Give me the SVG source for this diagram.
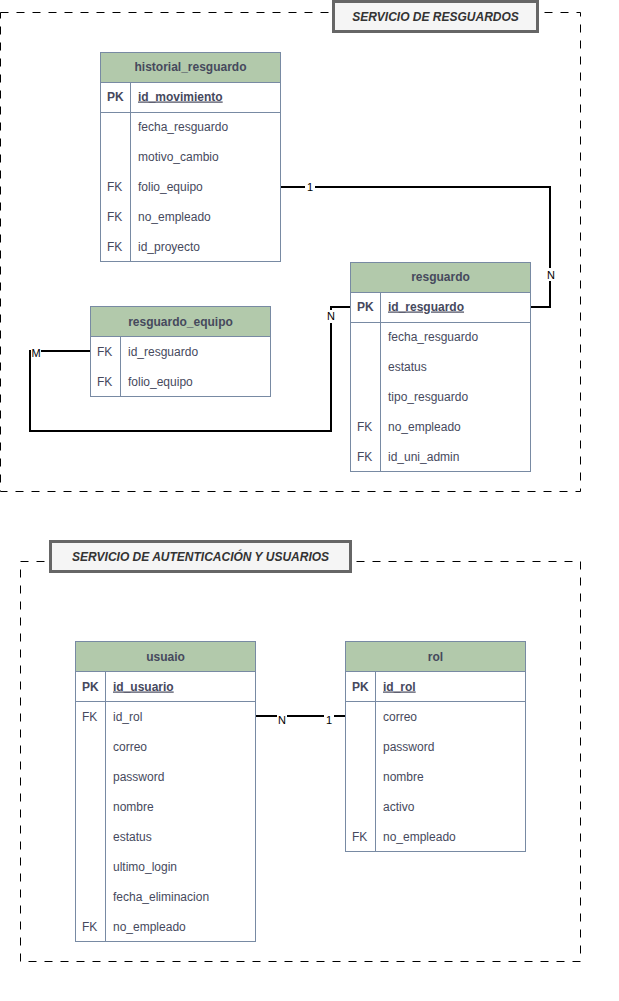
<svg xmlns="http://www.w3.org/2000/svg" width="619" height="1001" viewBox="0 0 619 1001">
<style>
.frame{fill:none;stroke:#000;stroke-width:1;stroke-dasharray:8 8}
.title{fill:#f5f5f5;stroke:#666;stroke-width:3}
.ttext{font-family:"Liberation Sans",Arial,sans-serif;font-size:12px;font-style:italic;font-weight:bold;fill:#333;text-anchor:middle}
.box{fill:#fff;stroke:#788aa3;stroke-width:1}
.hdr{fill:#b2c9ab;stroke:#788aa3;stroke-width:1}
.ln{stroke:#788aa3;stroke-width:1;fill:none}
.h{font-family:"Liberation Sans",Arial,sans-serif;font-size:12px;font-weight:bold;fill:#46495d;text-anchor:middle}
.k{font-family:"Liberation Sans",Arial,sans-serif;font-size:12px;fill:#46495d}
.kb{font-family:"Liberation Sans",Arial,sans-serif;font-size:12px;font-weight:bold;fill:#46495d}
.pk{font-family:"Liberation Sans",Arial,sans-serif;font-size:12px;font-weight:bold;fill:#46495d;text-decoration:underline}
.conn{fill:none;stroke:#000;stroke-width:2}
.lbl{font-family:"Liberation Sans",Arial,sans-serif;font-size:11px;fill:#000;text-anchor:middle}
</style>
<g id="frame-resguardos">
<rect class="frame" x="0.5" y="12.5" width="580" height="479"/>
<rect class="title" x="333.5" y="1.5" width="204" height="30"/>
<text class="ttext" x="435.5" y="20.5">SERVICIO DE RESGUARDOS</text>
</g>
<g id="frame-auth">
<rect class="frame" x="20.5" y="561.5" width="560" height="400"/>
<rect class="title" x="50.5" y="541.5" width="300" height="30"/>
<text class="ttext" x="200.5" y="560.5">SERVICIO DE AUTENTICACIÓN Y USUARIOS</text>
</g>
<g id="connectors">
<polyline class="conn" points="280,187 550,187 550,307 530,307"/>
<polyline class="conn" points="90,351 30,351 30,431 331,431 331,307 350,307"/>
<line class="conn" x1="255" y1="716" x2="345" y2="716"/>
<rect x="305" y="180" width="10" height="13" fill="#fff"/>
<text class="lbl" x="310" y="191">1</text>
<rect x="546" y="268" width="10" height="13" fill="#fff"/>
<text class="lbl" x="551" y="279">N</text>
<rect x="31" y="346" width="10" height="13" fill="#fff"/>
<text class="lbl" x="36" y="357">M</text>
<rect x="326" y="310" width="10" height="13" fill="#fff"/>
<text class="lbl" x="331" y="320">N</text>
<rect x="277" y="714" width="10" height="12" fill="#fff"/>
<text class="lbl" x="282" y="724">N</text>
<rect x="324" y="714" width="10" height="12" fill="#fff"/>
<text class="lbl" x="329" y="724">1</text>
</g>
<g id="historial_resguardo">
<rect class="box" x="100.5" y="52.5" width="180" height="209"/>
<rect class="hdr" x="100.5" y="52.5" width="180" height="30"/>
<text class="h" x="190.5" y="70.5">historial_resguardo</text>
<line class="ln" x1="100.5" y1="112.5" x2="280.5" y2="112.5"/>
<line class="ln" x1="130.5" y1="82.5" x2="130.5" y2="261.5"/>
<text class="kb" x="107" y="100.5">PK</text>
<text class="pk" x="138" y="100.5">id_movimiento</text>
<text class="k" x="138" y="130.5">fecha_resguardo</text>
<text class="k" x="138" y="160.5">motivo_cambio</text>
<text class="k" x="107" y="190.5">FK</text>
<text class="k" x="138" y="190.5">folio_equipo</text>
<text class="k" x="107" y="220.5">FK</text>
<text class="k" x="138" y="220.5">no_empleado</text>
<text class="k" x="107" y="250.5">FK</text>
<text class="k" x="138" y="250.5">id_proyecto</text>
</g>
<g id="resguardo_equipo">
<rect class="box" x="90.5" y="306.5" width="180" height="90"/>
<rect class="hdr" x="90.5" y="306.5" width="180" height="30"/>
<text class="h" x="180.5" y="325.5">resguardo_equipo</text>
<line class="ln" x1="120.5" y1="336.5" x2="120.5" y2="396.5"/>
<text class="k" x="97" y="355.5">FK</text>
<text class="k" x="128" y="355.5">id_resguardo</text>
<text class="k" x="97" y="385.5">FK</text>
<text class="k" x="128" y="385.5">folio_equipo</text>
</g>
<g id="resguardo">
<rect class="box" x="350.5" y="262.5" width="180" height="209"/>
<rect class="hdr" x="350.5" y="262.5" width="180" height="30"/>
<text class="h" x="440.5" y="280.5">resguardo</text>
<line class="ln" x1="350.5" y1="322.5" x2="530.5" y2="322.5"/>
<line class="ln" x1="380.5" y1="292.5" x2="380.5" y2="471.5"/>
<text class="kb" x="357" y="310.5">PK</text>
<text class="pk" x="388" y="310.5">id_resguardo</text>
<text class="k" x="388" y="340.5">fecha_resguardo</text>
<text class="k" x="388" y="370.5">estatus</text>
<text class="k" x="388" y="400.5">tipo_resguardo</text>
<text class="k" x="357" y="430.5">FK</text>
<text class="k" x="388" y="430.5">no_empleado</text>
<text class="k" x="357" y="460.5">FK</text>
<text class="k" x="388" y="460.5">id_uni_admin</text>
</g>
<g id="usuaio">
<rect class="box" x="75.5" y="641.5" width="180" height="300"/>
<rect class="hdr" x="75.5" y="641.5" width="180" height="30"/>
<text class="h" x="165.5" y="660.5">usuaio</text>
<line class="ln" x1="75.5" y1="701.5" x2="255.5" y2="701.5"/>
<line class="ln" x1="105.5" y1="671.5" x2="105.5" y2="941.5"/>
<text class="kb" x="82" y="690.5">PK</text>
<text class="pk" x="113" y="690.5">id_usuario</text>
<text class="k" x="82" y="720.5">FK</text>
<text class="k" x="113" y="720.5">id_rol</text>
<text class="k" x="113" y="750.5">correo</text>
<text class="k" x="113" y="780.5">password</text>
<text class="k" x="113" y="810.5">nombre</text>
<text class="k" x="113" y="840.5">estatus</text>
<text class="k" x="113" y="870.5">ultimo_login</text>
<text class="k" x="113" y="900.5">fecha_eliminacion</text>
<text class="k" x="82" y="930.5">FK</text>
<text class="k" x="113" y="930.5">no_empleado</text>
</g>
<g id="rol">
<rect class="box" x="345.5" y="641.5" width="180" height="210"/>
<rect class="hdr" x="345.5" y="641.5" width="180" height="30"/>
<text class="h" x="435.5" y="660.5">rol</text>
<line class="ln" x1="345.5" y1="701.5" x2="525.5" y2="701.5"/>
<line class="ln" x1="375.5" y1="671.5" x2="375.5" y2="851.5"/>
<text class="kb" x="352" y="690.5">PK</text>
<text class="pk" x="383" y="690.5">id_rol</text>
<text class="k" x="383" y="720.5">correo</text>
<text class="k" x="383" y="750.5">password</text>
<text class="k" x="383" y="780.5">nombre</text>
<text class="k" x="383" y="810.5">activo</text>
<text class="k" x="352" y="840.5">FK</text>
<text class="k" x="383" y="840.5">no_empleado</text>
</g>
</svg>
